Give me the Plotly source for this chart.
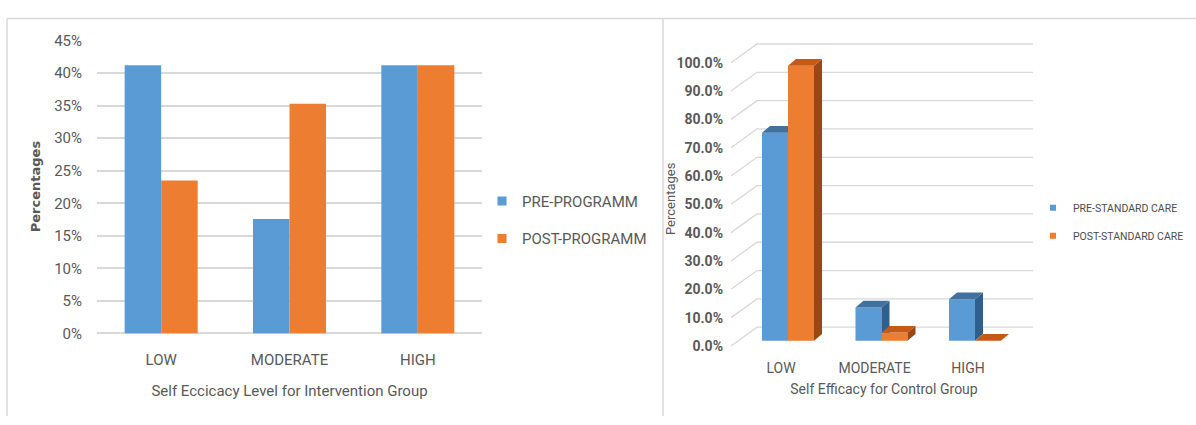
import plotly.graph_objects as go

# ---------------- data ----------------
categories = ["LOW", "MODERATE", "HIGH"]

interv_series = ["PRE-PROGRAMM", "POST-PROGRAMM"]
interv_pre = [41.2, 17.6, 41.2]
interv_post = [23.5, 35.3, 41.2]
interv_yticks = [0, 5, 10, 15, 20, 25, 30, 35, 40, 45]

control_series = ["PRE-STANDARD CARE", "POST-STANDARD CARE"]
control_pre = [73.5, 11.8, 14.7]
control_post = [97.1, 2.9, 0.0]
control_yticks = [0, 10, 20, 30, 40, 50, 60, 70, 80, 90, 100]

# ---------------- style ----------------
W, H = 1196, 425
BLUE, ORANGE = "#5b9bd5", "#ed7d31"
BLUE_TOP, BLUE_SIDE = "#41719c", "#2f5f8c"
ORANGE_TOP, ORANGE_SIDE = "#c65a13", "#9c4614"
GRID = "#d9d9d9"
TXT = "#595959"
NARROW = "Roboto, Liberation Sans, sans-serif"


def fx(px):
    return px / W


def fy(px):
    return 1 - px / H


fig = go.Figure()

# ---------------- left chart (2D grouped bars) ----------------
fig.add_trace(go.Bar(x=categories, y=interv_pre, name=interv_series[0],
                     marker=dict(color=BLUE, line=dict(width=0)),
                     xaxis="x", yaxis="y", showlegend=False))
fig.add_trace(go.Bar(x=categories, y=interv_post, name=interv_series[1],
                     marker=dict(color=ORANGE, line=dict(width=0)),
                     xaxis="x", yaxis="y", showlegend=False))
for name, col in zip(interv_series, [BLUE, ORANGE]):
    fig.add_trace(go.Scatter(x=[None], y=[None], mode="markers", name=name,
                             marker=dict(symbol="square", size=9, color=col),
                             xaxis="x", yaxis="y", legend="legend",
                             legendgroup=name))

L_Y0, L_PXPU = 339, (339 - 34) / 45.0
L_TOP = 45.15

# ---------------- right chart (3D-look column bars) ----------------
S = 2.95          # px per percentage unit
Y0PX = 352        # front-plane zero
R_TOPPX, R_BOTPX = 18, 362
CPX, SP = 788, 93.5
R_LPX, R_RPX = 728, 1040

bw = 26 / SP
base = 5.3 / S
ddx, ddy = 8 / SP, 7 / S
grid_front = (731 - CPX) / SP
grid_back = (757 - CPX) / SP
grid_end = (1033 - CPX) / SP
grid_dz = 19.5 / S

for v in control_yticks:
    fig.add_trace(go.Scatter(
        x=[grid_front, grid_back, grid_end], y=[v, v + grid_dz, v + grid_dz],
        mode="lines", line=dict(color=GRID, width=1.3),
        xaxis="x2", yaxis="y2", showlegend=False, hoverinfo="skip"))


def face(xs, ys, color):
    fig.add_trace(go.Scatter(x=xs, y=ys, mode="lines", fill="toself",
                             fillcolor=color, line=dict(width=0, color=color),
                             xaxis="x2", yaxis="y2", showlegend=False,
                             hoverinfo="skip"))


for i in range(len(categories)):
    for vals, off, cf, ct, cs in [(control_pre, -bw, BLUE, BLUE_TOP, BLUE_SIDE),
                                  (control_post, 0.0, ORANGE, ORANGE_TOP, ORANGE_SIDE)]:
        v = vals[i]
        x0, x1 = i + off, i + off + bw
        y0, y1 = base, base + v
        if v > 0:
            face([x0, x1, x1, x0], [y0, y0, y1, y1], cf)
            face([x1, x1 + ddx, x1 + ddx, x1], [y0, y0 + ddy, y1 + ddy, y1], cs)
        face([x0, x1, x1 + ddx, x0 + ddx], [y1, y1, y1 + ddy, y1 + ddy], ct)

for name, col in zip(control_series, [BLUE, ORANGE]):
    fig.add_trace(go.Scatter(x=[None], y=[None], mode="markers", name=name,
                             marker=dict(symbol="square", size=6, color=col),
                             xaxis="x2", yaxis="y2", legend="legend2",
                             legendgroup=name))

# ---------------- layout ----------------
fig.update_layout(
    width=W, height=H,
    margin=dict(l=0, r=0, t=0, b=0),
    paper_bgcolor="white", plot_bgcolor="rgba(0,0,0,0)",
    barmode="group", bargap=0.431, bargroupgap=0,
    xaxis=dict(domain=[fx(97), fx(482)], type="category",
               range=[-0.5, 2.5], showgrid=False, zeroline=False,
               showline=False, ticks="", ticklabelstandoff=16,
               tickfont=dict(family=NARROW, size=15, color=TXT),
               title=dict(text="Self Eccicacy Level for Intervention Group",
                          font=dict(family=NARROW, size=15, color=TXT),
                          standoff=17),
               fixedrange=True),
    yaxis=dict(domain=[fy(L_Y0), fy(L_Y0 - L_TOP * L_PXPU)],
               range=[0, L_TOP], tickvals=interv_yticks,
               ticktext=[f"{t}%" for t in interv_yticks],
               showgrid=True, gridcolor=GRID, gridwidth=2,
               zeroline=True, zerolinecolor=GRID, zerolinewidth=2,
               showline=False, ticks="", ticklabelstandoff=14,
               tickfont=dict(family=NARROW, size=15, color=TXT),
               title=dict(text="<b>Percentages</b>",
                          font=dict(family="DejaVu Sans", size=13, color=TXT),
                          standoff=10),
               fixedrange=True),
    xaxis2=dict(domain=[fx(R_LPX), fx(R_RPX)],
                range=[(R_LPX - CPX) / SP, (R_RPX - CPX) / SP],
                tickvals=[i - 7 / SP for i in range(len(categories))],
                ticktext=categories,
                showgrid=False, zeroline=False, showline=False, ticks="",
                ticklabelstandoff=2,
                tickfont=dict(family=NARROW, size=14, color=TXT),
                title=dict(text="Self Efficacy for Control Group",
                           font=dict(family=NARROW, size=14, color=TXT),
                           standoff=9),
                anchor="y2", fixedrange=True),
    yaxis2=dict(domain=[fy(R_BOTPX), fy(R_TOPPX)],
                range=[(Y0PX - R_BOTPX) / S, (Y0PX - R_TOPPX) / S],
                tickvals=control_yticks,
                ticktext=[f"<b>{t:.1f}%</b>" for t in control_yticks],
                showgrid=False, zeroline=False, showline=False, ticks="",
                ticklabelstandoff=4,
                tickfont=dict(family=NARROW, size=14, color=TXT),
                anchor="x2", fixedrange=True),
    legend=dict(x=fx(482), y=fy(184), xanchor="left", yanchor="top",
                font=dict(family=NARROW, size=15, color=TXT),
                bgcolor="rgba(0,0,0,0)", tracegroupgap=15,
                traceorder="grouped", itemsizing="trace"),
    legend2=dict(x=fx(1033), y=fy(193), xanchor="left", yanchor="top",
                 font=dict(family=NARROW, size=10.5, color="#4d4d4d"),
                 bgcolor="rgba(0,0,0,0)", tracegroupgap=9,
                 traceorder="grouped", itemsizing="trace"),
    annotations=[
        dict(text="Percentages", xref="paper", yref="paper",
             x=fx(670), y=fy(199), textangle=-90, showarrow=False,
             xanchor="center", yanchor="middle",
             font=dict(family=NARROW, size=13, color=TXT)),
    ],
    shapes=[
        dict(type="line", xref="paper", yref="paper", x0=fx(7), x1=1,
             y0=fy(11), y1=fy(11), line=dict(color=GRID, width=1.5)),
        dict(type="line", xref="paper", yref="paper", x0=fx(7), x1=fx(7),
             y0=fy(11), y1=0, line=dict(color=GRID, width=1.5)),
        dict(type="line", xref="paper", yref="paper", x0=fx(663), x1=fx(663),
             y0=fy(11), y1=0, line=dict(color=GRID, width=1.5)),
    ],
)

fig.write_html("out.html")
